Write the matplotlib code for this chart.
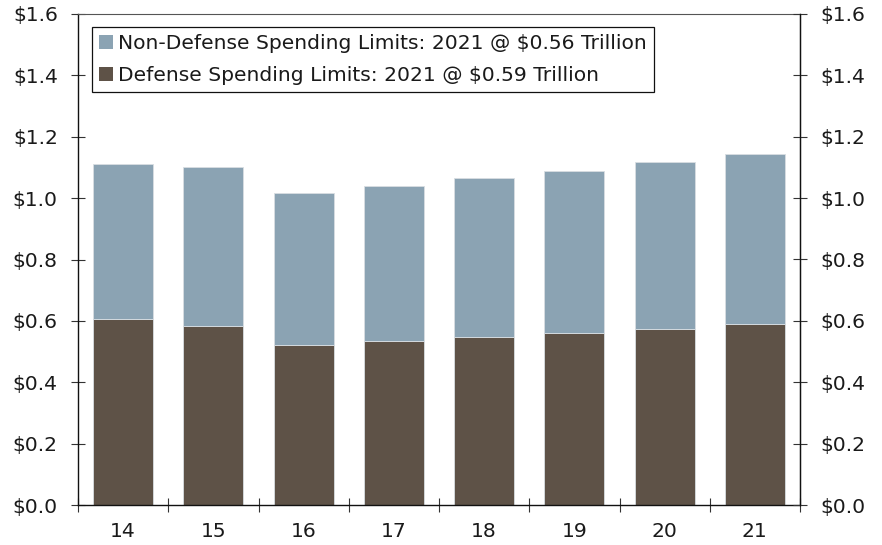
import matplotlib
matplotlib.use("Agg")
import matplotlib.pyplot as plt
from matplotlib.patches import Patch
from matplotlib.ticker import FixedLocator, FuncFormatter
import numpy as np

years = ["14", "15", "16", "17", "18", "19", "20", "21"]
defense = [0.605, 0.584, 0.522, 0.535, 0.548, 0.561, 0.574, 0.589]
non_defense = [0.505, 0.516, 0.494, 0.504, 0.516, 0.529, 0.544, 0.556]
legend_labels = ["Non-Defense Spending Limits: 2021 @ $0.56 Trillion",
                 "Defense Spending Limits: 2021 @ $0.59 Trillion"]
yticks = [0.0, 0.2, 0.4, 0.6, 0.8, 1.0, 1.2, 1.4, 1.6]

c_non = "#8BA3B3"
c_def = "#5E5247"
txt = "#1a1a1a"
fs = 14.6

plt.rcParams['font.family'] = ['DejaVu Sans']

fig = plt.figure(figsize=(8.82, 5.45), dpi=100)
ax = fig.add_axes([78/882, 40/545, 722/882, 491/545])

x = np.arange(len(years))
w = 0.665
ax.bar(x, defense, width=w, color=c_def, edgecolor="#d9dee2", linewidth=0.6, zorder=2)
ax.bar(x, non_defense, width=w, bottom=defense, color=c_non, edgecolor="#d9dee2", linewidth=0.6, zorder=2)

ax.set_xlim(-0.5, len(years) - 0.5)
ax.set_ylim(0, 1.6)

fmt = FuncFormatter(lambda v, p: f"${v:.1f}")
ax.yaxis.set_major_locator(FixedLocator(yticks))
ax.yaxis.set_major_formatter(fmt)
ax.tick_params(axis='y', which='major', direction='inout', length=10, width=0.8,
               color="#333333", labelsize=fs, labelcolor=txt, pad=9.5,
               left=True, right=False)

# x: labels at centers, ticks at boundaries
ax.set_xticks(x)
ax.set_xticklabels(years)
ax.set_xticks(np.arange(-0.5, len(years)), minor=True)
ax.tick_params(axis='x', which='major', length=0, labelsize=fs, labelcolor=txt, pad=12)
ax.tick_params(axis='x', which='minor', direction='inout', length=10, width=0.8, color="#333333")

for s in ['left', 'right', 'bottom']:
    ax.spines[s].set_color("#111111")
    ax.spines[s].set_linewidth(1.0)
ax.spines['top'].set_color("#555555")
ax.spines['top'].set_linewidth(0.8)

ax2 = ax.twinx()
ax2.set_ylim(0, 1.6)
ax2.yaxis.set_major_locator(FixedLocator(yticks))
ax2.yaxis.set_major_formatter(fmt)
ax2.tick_params(axis='y', which='major', direction='inout', length=10, width=0.8,
                color="#333333", labelsize=fs, labelcolor=txt, pad=9.5)
for s in ax2.spines.values():
    s.set_visible(False)
ax2.spines['right'].set_visible(True)
ax2.spines['right'].set_color("#111111")

handles = [Patch(facecolor=c_non, edgecolor='none'), Patch(facecolor=c_def, edgecolor='none')]
leg = ax2.legend(handles, legend_labels, loc='upper left',
                 bbox_to_anchor=(14/722, 1 - 13/491), fontsize=fs,
                 frameon=True, fancybox=False, edgecolor="#111111",
                 handlelength=0.66, handleheight=0.66, handletextpad=0.25,
                 labelspacing=0.62, borderpad=0.36, borderaxespad=0.0,
                 labelcolor=txt)
leg.get_frame().set_linewidth(0.9)
leg.get_frame().set_alpha(1)

fig.savefig("out.png", dpi=100)
